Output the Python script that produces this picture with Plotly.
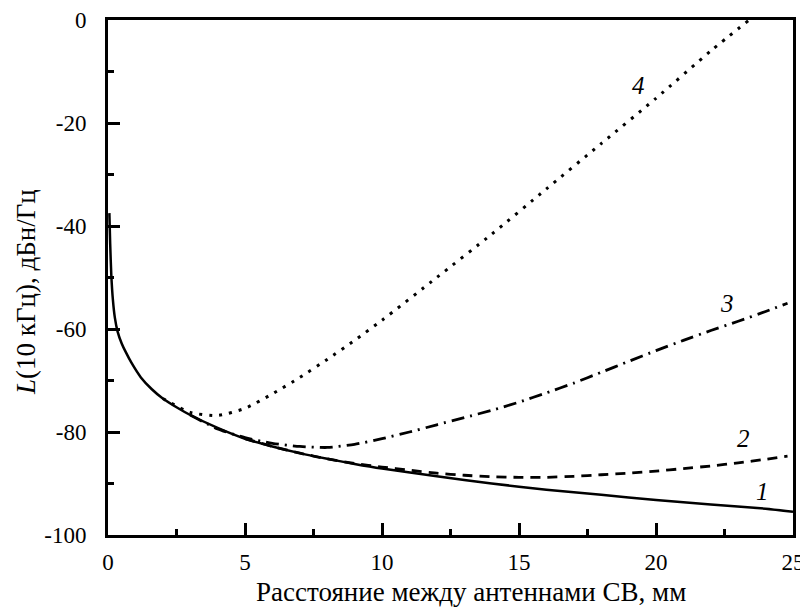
import plotly.graph_objects as go

# Curve 1 (solid)
x1 = [0.05, 0.08, 0.12, 0.18, 0.25, 0.35, 0.5, 0.65, 0.86, 1.2, 1.6, 2, 2.5, 3, 4, 5, 6, 7, 8, 9, 10, 12, 14, 16, 18, 20, 22, 24, 25]
y1 = [-37.5, -43.5, -49.5, -54.4, -57.8, -60.5, -62.8, -64.5, -66.6, -69.4, -71.7, -73.5, -75.2, -76.7, -79.2, -81.3, -82.8, -84.1, -85.2, -86.2, -87.1, -88.6, -90.0, -91.2, -92.2, -93.2, -94.1, -94.9, -95.5]

# Curve 2 (dashed)
x2 = [5, 6, 7, 8, 9, 10, 11, 12, 13, 14, 15, 16, 17, 18, 19, 20, 21, 22, 23, 24, 24.8]
y2 = [-81.3, -82.8, -84.1, -85.2, -86.1, -86.8, -87.4, -88.0, -88.4, -88.7, -88.8, -88.8, -88.6, -88.3, -88.0, -87.6, -87.1, -86.6, -86.0, -85.3, -84.7]

# Curve 3 (dash-dot)
x3 = [3, 4, 5, 6, 7, 8, 9, 10, 11, 12, 13, 14, 15, 16, 17, 18, 19, 20, 21, 22, 23, 24, 24.8]
y3 = [-76.7, -79.4, -81.1, -82.2, -82.8, -83.0, -82.4, -81.3, -80.0, -78.6, -77.2, -75.8, -74.2, -72.4, -70.5, -68.4, -66.3, -64.2, -62.2, -60.3, -58.5, -56.6, -55.0]

# Curve 4 (dotted)
x4 = [2, 3, 4, 5, 6, 7, 8, 9, 10, 12, 14, 16, 18, 20, 22, 23.4]
y4 = [-73.5, -76.2, -76.8, -75.4, -72.6, -69.4, -65.9, -62.2, -58.3, -50.0, -41.6, -32.8, -24.0, -15.2, -6.0, 0.0]

curve_labels = ["1", "2", "3", "4"]
label_x = [23.9, 23.2, 22.6, 19.35]
label_y = [-91.6, -81.2, -55.0, -12.8]

x_ticks = [0, 5, 10, 15, 20, 25]
y_ticks = [-100, -80, -60, -40, -20, 0]

FONT = "Liberation Serif"

fig = go.Figure()
fig.add_trace(go.Scatter(x=x1, y=y1, mode="lines", line=dict(color="black", width=2.5, shape="spline", smoothing=0.6)))
fig.add_trace(go.Scatter(x=x2, y=y2, mode="lines", line=dict(color="black", width=2.8, dash="10px,7px", shape="spline", smoothing=0.6)))
fig.add_trace(go.Scatter(x=x3, y=y3, mode="lines", line=dict(color="black", width=2.8, dash="13px,6px,2px,6px", shape="spline", smoothing=0.6)))
fig.add_trace(go.Scatter(x=x4, y=y4, mode="lines", line=dict(color="black", width=3, dash="3px,7px", shape="spline", smoothing=0.6)))

for t, lx, ly in zip(curve_labels, label_x, label_y):
    fig.add_annotation(x=lx, y=ly, text="<i>%s</i>" % t, showarrow=False,
                       xanchor="center", yanchor="middle",
                       font=dict(family=FONT, size=25, color="black"))

fig.add_annotation(x=0.53, y=-0.1107, xref="paper", yref="paper", showarrow=False,
                   xanchor="center", yanchor="middle",
                   text="Расстояние между антеннами СВ, мм",
                   font=dict(family=FONT, size=27, color="black"))
fig.add_annotation(x=-0.1197, y=0.472, xref="paper", yref="paper", showarrow=False, textangle=-90,
                   xanchor="center", yanchor="middle",
                   text="<i>L</i>(10 кГц), дБн/Гц",
                   font=dict(family=FONT, size=27, color="black"))

fig.update_xaxes(range=[0, 25], tickvals=x_ticks, ticktext=[str(v) for v in x_ticks], automargin=False,
                 showgrid=False, zeroline=False, showline=True, linewidth=3, linecolor="black",
                 mirror=True, ticks="inside", ticklen=12, tickwidth=3, tickcolor="black",
                 minor=dict(tickvals=[2.5, 7.5, 12.5, 17.5, 22.5], ticks="inside", ticklen=6, tickwidth=3, tickcolor="black"),
                 tickfont=dict(family=FONT, size=23, color="black"), ticklabelstandoff=4)
fig.update_yaxes(range=[-100, 0], tickvals=y_ticks, ticktext=[str(v) for v in y_ticks], automargin=False,
                 showgrid=False, zeroline=False, showline=True, linewidth=3, linecolor="black",
                 mirror=True, ticks="inside", ticklen=12, tickwidth=3, tickcolor="black",
                 minor=dict(tickvals=[-90, -70, -50, -30, -10], ticks="inside", ticklen=6, tickwidth=3, tickcolor="black"),
                 tickfont=dict(family=FONT, size=23, color="black"), ticklabelstandoff=14)

# page body adds an 8px offset, so the figure is sized to keep the plot frame where the reference has it
fig.update_layout(width=800, height=599, margin=dict(l=100, r=15, t=12, b=72),
                  font=dict(family=FONT, color="black"),
                  plot_bgcolor="white", paper_bgcolor="white", showlegend=False)

fig.write_html("out.html")
